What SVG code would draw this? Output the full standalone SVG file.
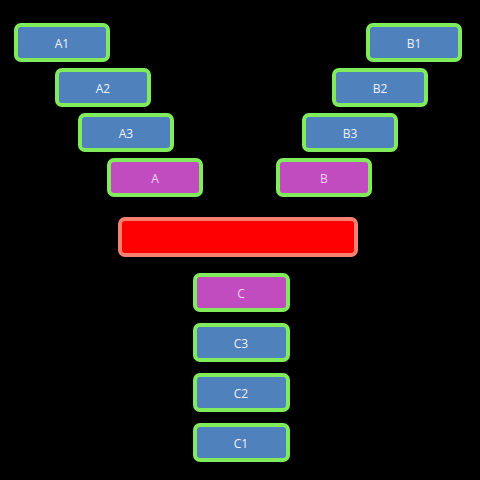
<svg xmlns="http://www.w3.org/2000/svg" width="480" height="480" viewBox="0 0 480 480">
<style>
.n{stroke:#80EC5C;stroke-width:4}
.blue{fill:#4F81BD}
.pur{fill:#C04CC0}
.t{font-family:"Open Sans","Liberation Sans",sans-serif;font-size:12px;text-anchor:middle;dominant-baseline:central}
.tb{fill:#EEF2FA}
.tp{fill:#F6D0F6}
</style>
<rect x="0" y="0" width="480" height="480" fill="#000"/>
<g id="connectors"></g>
<g id="A1"><rect class="n blue" x="16" y="25" width="92" height="35" rx="5"/><text class="t tb" x="62" y="43">A1</text></g>
<g id="A2"><rect class="n blue" x="57" y="70" width="92" height="35" rx="5"/><text class="t tb" x="103" y="88">A2</text></g>
<g id="A3"><rect class="n blue" x="80" y="115" width="92" height="35" rx="5"/><text class="t tb" x="126" y="133">A3</text></g>
<g id="A"><rect class="n pur" x="109" y="160" width="92" height="35" rx="5"/><text class="t tp" x="155" y="178">A</text></g>
<g id="B1"><rect class="n blue" x="368" y="25" width="92" height="35" rx="5"/><text class="t tb" x="414" y="43">B1</text></g>
<g id="B2"><rect class="n blue" x="334" y="70" width="92" height="35" rx="5"/><text class="t tb" x="380" y="88">B2</text></g>
<g id="B3"><rect class="n blue" x="304" y="115" width="92" height="35" rx="5"/><text class="t tb" x="350" y="133">B3</text></g>
<g id="B"><rect class="n pur" x="278" y="160" width="92" height="35" rx="5"/><text class="t tp" x="324" y="178">B</text></g>
<g id="bar"><rect x="120" y="219" width="236" height="36" rx="5" fill="#FF0000" stroke="#F88070" stroke-width="4"/></g>
<g id="C"><rect class="n pur" x="195" y="275" width="93" height="35" rx="5"/><text class="t tp" x="241" y="293">C</text></g>
<g id="C3"><rect class="n blue" x="195" y="325" width="93" height="35" rx="5"/><text class="t tb" x="241" y="343">C3</text></g>
<g id="C2"><rect class="n blue" x="195" y="375" width="93" height="35" rx="5"/><text class="t tb" x="241" y="393">C2</text></g>
<g id="C1"><rect class="n blue" x="195" y="425" width="93" height="35" rx="5"/><text class="t tb" x="241" y="443">C1</text></g>
</svg>
